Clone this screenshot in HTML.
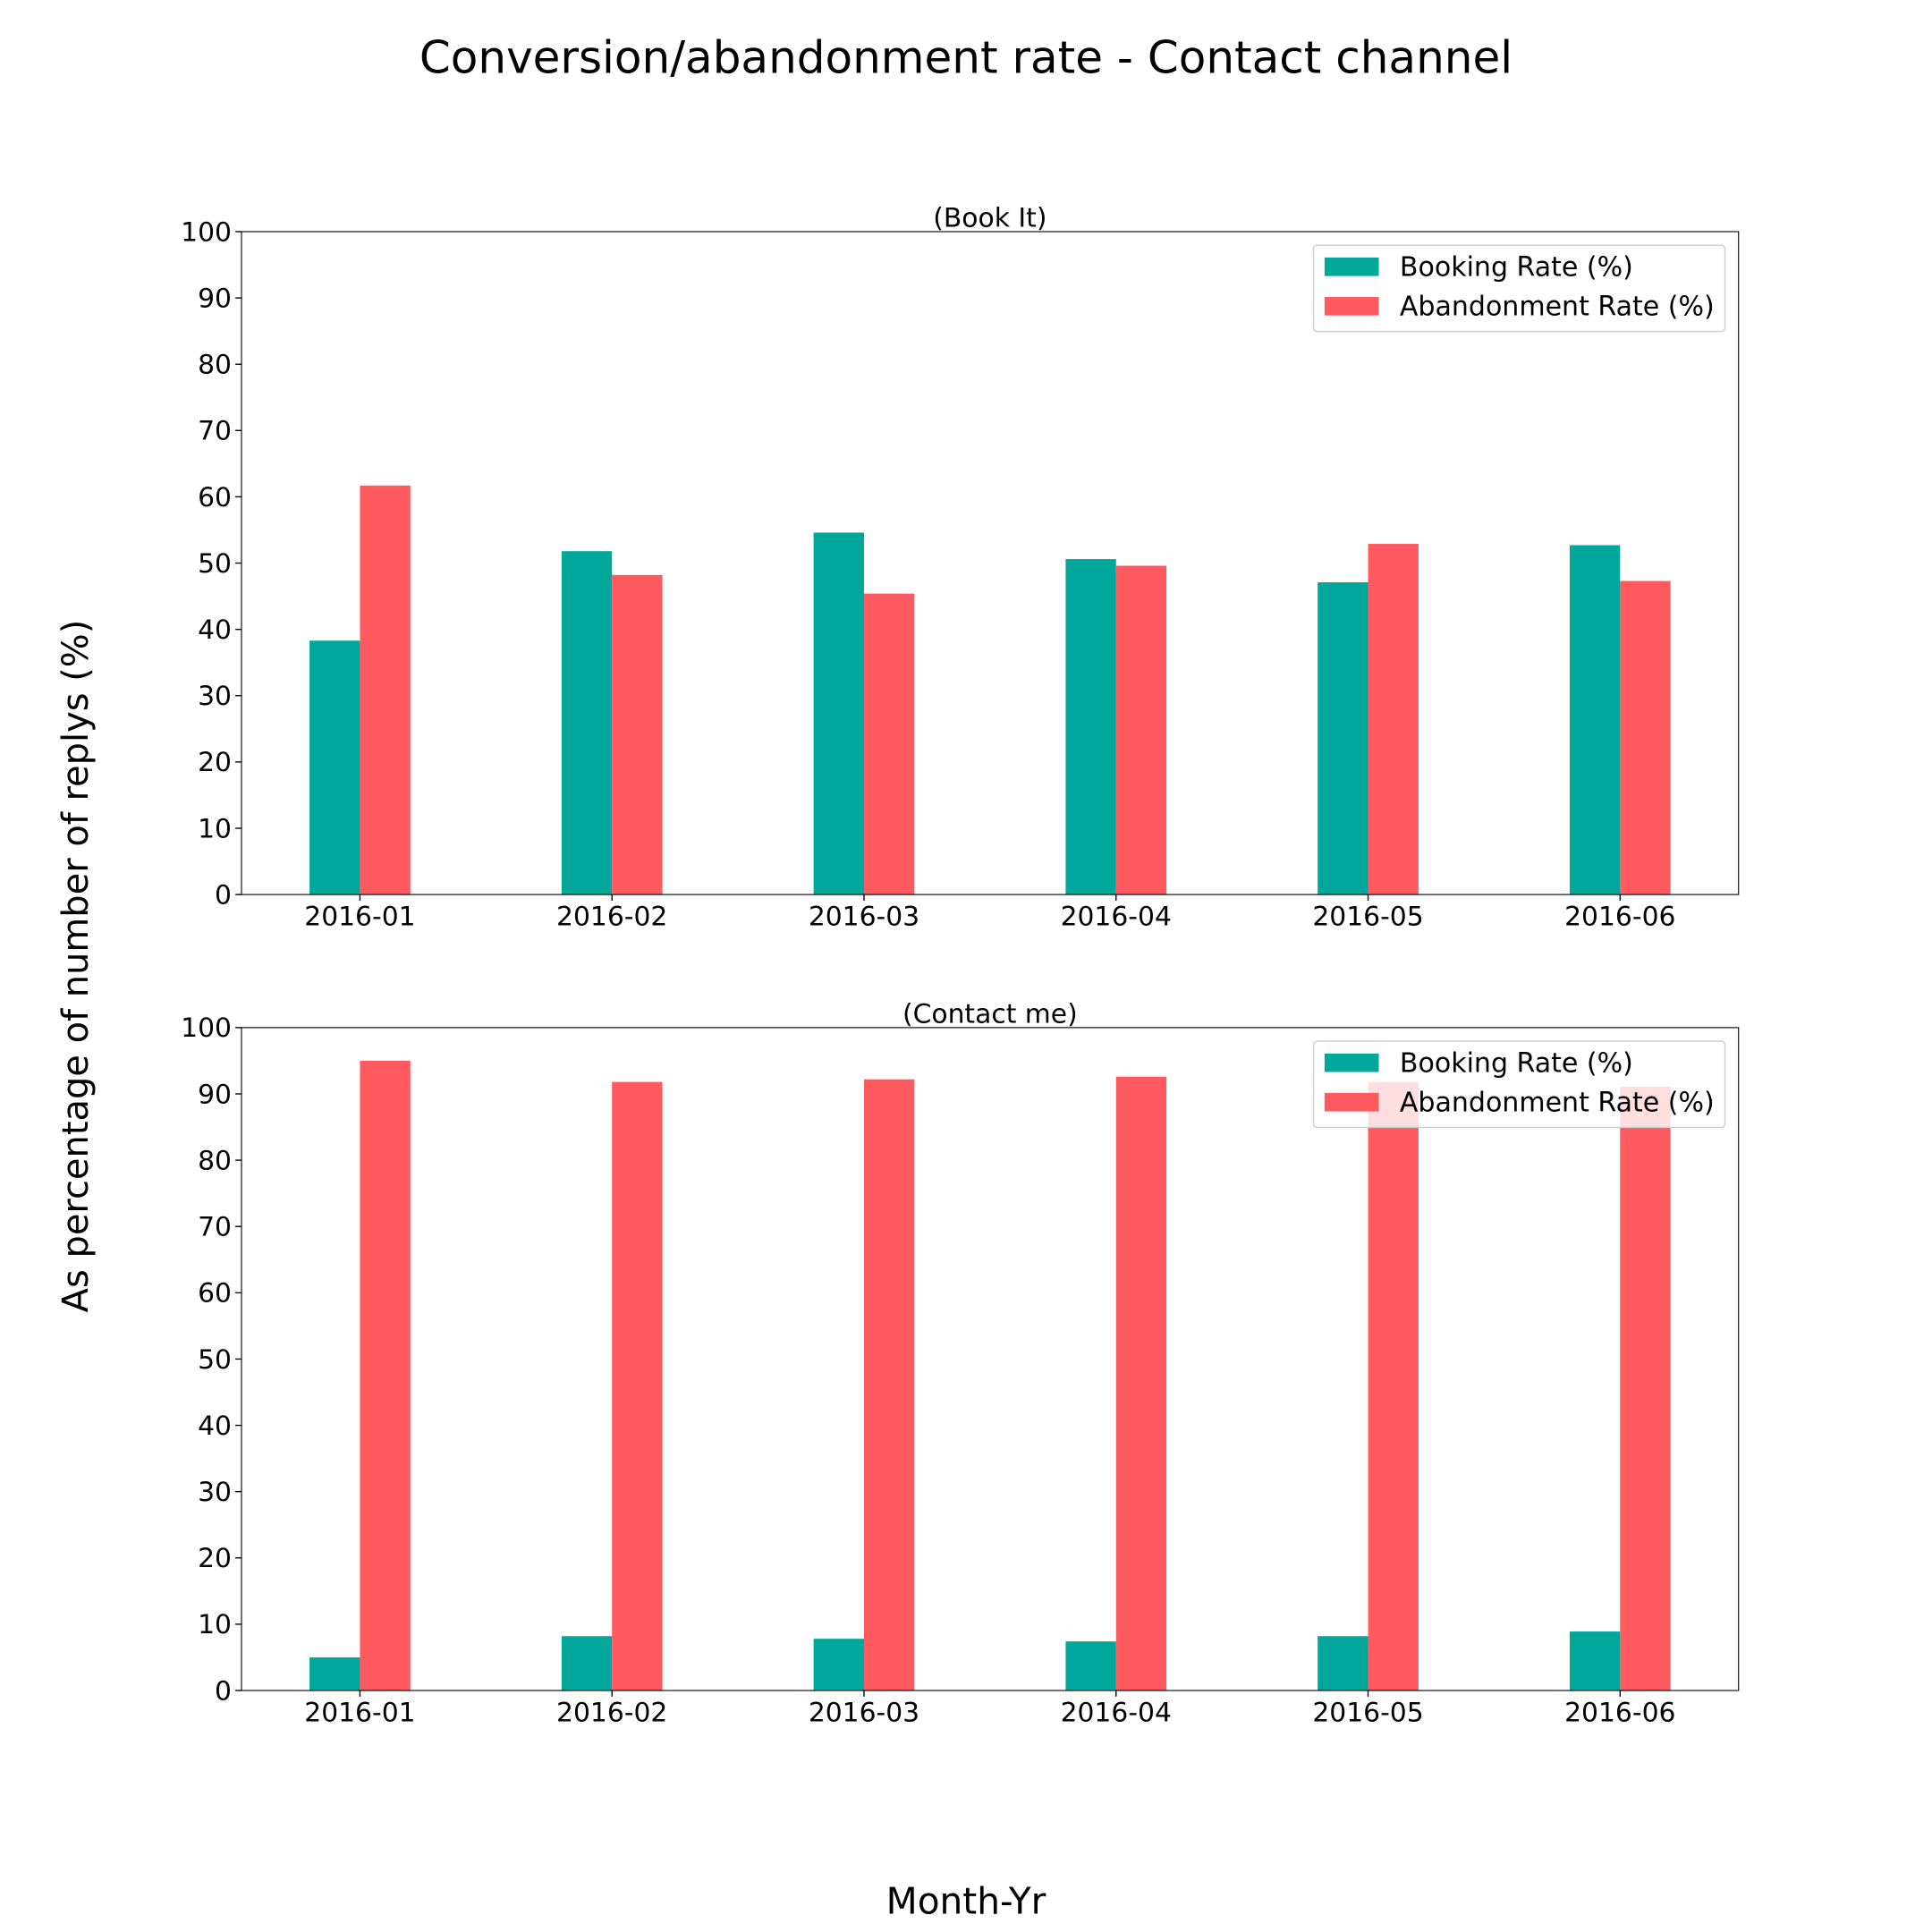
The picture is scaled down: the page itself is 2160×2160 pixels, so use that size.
<!DOCTYPE html>
<html><head><meta charset="utf-8"><style>html,body{margin:0;padding:0;background:#fff}svg{display:block}text{font-family:"DejaVu Sans","Liberation Sans",sans-serif;fill:#000}</style></head>
<body>
<svg id="chart" width="2160" height="2160" viewBox="0 0 1568 1568" xmlns="http://www.w3.org/2000/svg">
<rect width="1568" height="1568" fill="#fff"/>
<text x="784" y="59" font-size="36.3" text-anchor="middle">Conversion/abandonment rate - Contact channel</text>
<text transform="translate(71,784) rotate(-90)" font-size="29" text-anchor="middle">As percentage of number of replys (%)</text>
<text x="784" y="1553" font-size="29.5" text-anchor="middle">Month-Yr</text>
<g id="plots"></g>
</svg>
<script>
const categories = ["2016-01","2016-02","2016-03","2016-04","2016-05","2016-06"];
const bookItBooking = [38.3, 51.8, 54.6, 50.6, 47.1, 52.7];
const bookItAbandon = [61.7, 48.2, 45.4, 49.6, 52.9, 47.3];
const contactBooking = [5.0, 8.2, 7.8, 7.4, 8.2, 8.9];
const contactAbandon = [95.0, 91.8, 92.2, 92.6, 91.8, 91.1];
const yTicks = [0,10,20,30,40,50,60,70,80,90,100];
const seriesNames = ["Booking Rate (%)","Abandonment Rate (%)"];

const NS = "http://www.w3.org/2000/svg";
const root = document.getElementById('plots');
const TEAL = "#00a79a", RED = "#ff5a5f";
function mk(tag, attrs, parent){ const e=document.createElementNS(NS,tag); for(const k in attrs) e.setAttribute(k,attrs[k]); parent.appendChild(e); return e; }

function panel(top, title, booking, abandon, key){
  const L=196, R=1411, T=top, B=top+538;
  const xmin=-0.47, xmax=5.47;
  const xs = v => L + (v-xmin)/(xmax-xmin)*(R-L);
  const ys = v => B - v/100*(B-T);
  const g = mk('g',{},root);
  
  
  const w = 0.2;
  categories.forEach((c,i)=>{
    const b = mk('rect',{x:xs(i-w),y:ys(booking[i]),width:xs(i)-xs(i-w),height:ys(0)-ys(booking[i]),fill:TEAL},g);
    
    
    const a = mk('rect',{x:xs(i),y:ys(abandon[i]),width:xs(i+w)-xs(i),height:ys(0)-ys(abandon[i]),fill:RED},g);
    
    
    mk('line',{x1:xs(i),x2:xs(i),y1:B,y2:B+5,stroke:'#000','stroke-width':1},g);
    const t = mk('text',{x:xs(i),y:B+25,'font-size':21.6,'text-anchor':'middle'},g);
    t.textContent=c;
    
    
  });
  yTicks.forEach(v=>{
    mk('line',{x1:L-5,x2:L,y1:ys(v),y2:ys(v),stroke:'#000','stroke-width':1},g);
    const t = mk('text',{x:L-8,y:ys(v)+7.5,'font-size':21.6,'text-anchor':'end'},g);
    t.textContent=v;
    
    
  });
  mk('rect',{x:L,y:T,width:R-L,height:B-T,fill:'none',stroke:'#000','stroke-width':0.8},g);
  const st = mk('text',{x:(L+R)/2,y:T-4,'font-size':21.6,'text-anchor':'middle'},g);
  st.textContent=title;
  
  
  const lg = mk('g',{},g);
  
  
  mk('rect',{x:1066,y:T+11,width:334,height:70,rx:3,fill:'#fff','fill-opacity':0.8,stroke:'#ccc','stroke-width':1},lg);
  [TEAL,RED].forEach((col,j)=>{
    mk('rect',{x:1075,y:T+21+j*32,width:44,height:15,fill:col},lg);
    const t = mk('text',{x:1136,y:T+36+j*32,'font-size':21.8},lg);
    t.textContent=seriesNames[j];
    
    
  });
}
panel(188, "(Book It)", bookItBooking, bookItAbandon, 'book-it');
panel(834, "(Contact me)", contactBooking, contactAbandon, 'contact-me');
</script>
</body></html>
